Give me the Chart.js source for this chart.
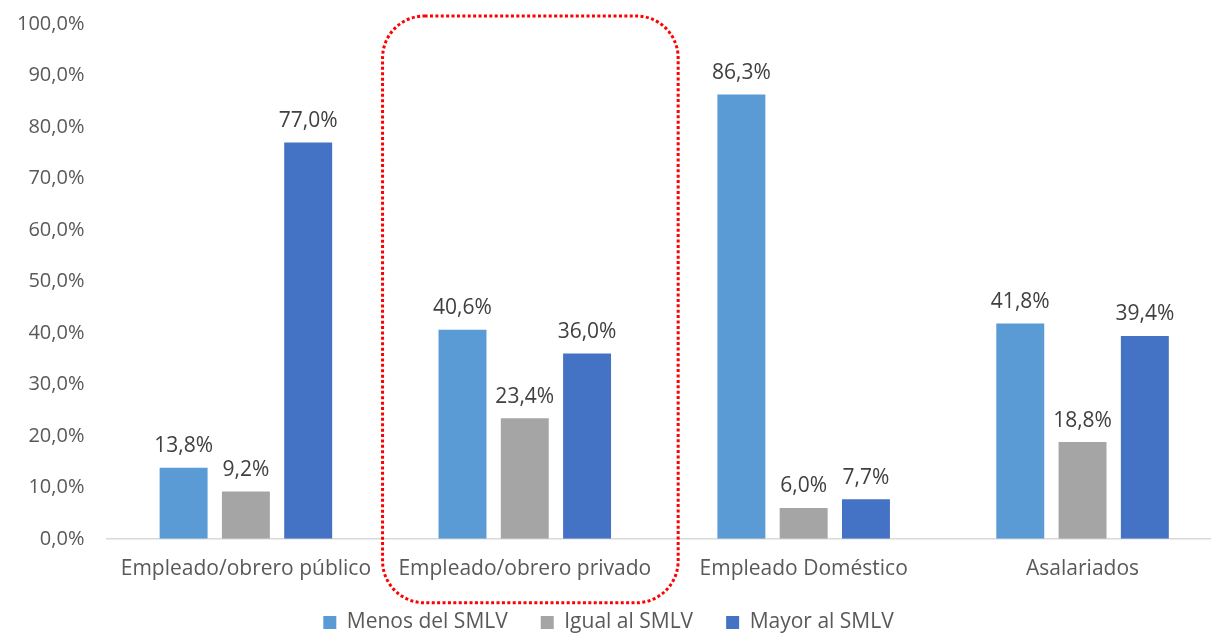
<!DOCTYPE html>
<html>
<head>
<meta charset="utf-8">
<script src="https://cdn.jsdelivr.net/npm/chart.js@4/dist/chart.umd.min.js"></script>
<style>
  html, body { margin: 0; padding: 0; background: #fff; overflow: hidden; }
  #wrap { width: 1222px; height: 643px; position: relative; top: -10px; }
</style>
</head>
<body>
<div id="wrap"><canvas id="barChart"></canvas></div>
<script>
const ctxBar = document.getElementById('barChart');

let categories = ['Empleado/obrero público', 'Empleado/obrero privado', 'Empleado Doméstico', 'Asalariados'];
let seriesNames = ['Menos del SMLV', 'Igual al SMLV', 'Mayor al SMLV'];
let menosData = [13.8, 40.6, 86.3, 41.8];
let igualData = [9.2, 23.4, 6.0, 18.8];
let mayorData = [77.0, 36.0, 7.7, 39.4];
let seriesColors = ['#5B9BD5', '#A5A5A5', '#4472C4'];
let highlightIndex = 1;

const fontFamily = "'Open Sans', 'Noto Sans', sans-serif";
const textColor = '#595959';

function pct(v) {
  return v.toFixed(1).replace('.', ',') + '%';
}

// etiquetas sobre las barras
const valueLabels = {
  id: 'valueLabels',
  afterDatasetsDraw(chart) {
    const ctx = chart.ctx;
    ctx.save();
    ctx.font = '21px ' + fontFamily;
    ctx.fillStyle = '#404040';
    ctx.textAlign = 'center';
    ctx.textBaseline = 'bottom';
    chart.data.datasets.forEach((ds, i) => {
      chart.getDatasetMeta(i).data.forEach((bar, j) => {
        ctx.fillText(pct(ds.data[j]), bar.x, bar.y - 11);
      });
    });
    ctx.restore();
  }
};

// recuadro punteado alrededor de la categoría resaltada
const highlightBox = {
  id: 'highlightBox',
  afterDraw(chart) {
    const x = chart.scales.x;
    const ctx = chart.ctx;
    const cx = x.getPixelForValue(highlightIndex);
    const cw = x.width / categories.length;
    const left = cx - 0.51 * cw, right = cx + 0.55 * cw;
    const top = chart.chartArea.top - 8;
    const bottom = chart.chartArea.bottom + 64;
    ctx.save();
    ctx.strokeStyle = '#FF0000';
    ctx.lineWidth = 3;
    ctx.setLineDash([3, 2.4]);
    ctx.beginPath();
    ctx.roundRect(left, top, right - left, bottom - top, 42);
    ctx.stroke();
    ctx.restore();
  }
};

const barChart = new Chart(ctxBar, {
  type: 'bar',
  data: {
    labels: categories,
    datasets: [
      { label: seriesNames[0], data: menosData, backgroundColor: seriesColors[0] },
      { label: seriesNames[1], data: igualData, backgroundColor: seriesColors[1] },
      { label: seriesNames[2], data: mayorData, backgroundColor: seriesColors[2] }
    ]
  },
  options: {
    responsive: true,
    maintainAspectRatio: false,
    animation: false,
    layout: { padding: { top: 0, left: -5, right: 0, bottom: -10 } },
    datasets: {
      bar: { barPercentage: 0.77, categoryPercentage: 0.67 }
    },
    scales: {
      x: {
        grid: { display: false, drawTicks: false },
        border: { color: '#D9D9D9', width: 1.5 },
        ticks: { color: textColor, font: { family: fontFamily, size: 21 }, padding: 18, maxRotation: 0 }
      },
      y: {
        min: 0,
        max: 100,
        grid: { display: false, drawTicks: false },
        border: { display: false },
        ticks: {
          stepSize: 10,
          color: textColor,
          padding: 22,
          font: { family: fontFamily, size: 20 },
          callback: (v) => pct(v)
        }
      }
    },
    plugins: {
      legend: {
        position: 'bottom',
        labels: {
          boxWidth: 13,
          boxHeight: 13,
          color: textColor,
          padding: 12,
          font: { family: fontFamily, size: 21 },
          generateLabels(chart) {
            const items = Chart.defaults.plugins.legend.labels.generateLabels(chart);
            items.forEach((it, i) => {
              if (i < items.length - 1) it.text = it.text + '\u2003';
            });
            return items;
          }
        }
      },
      tooltip: { enabled: false }
    }
  },
  plugins: [valueLabels, highlightBox]
});
</script>
</body>
</html>
